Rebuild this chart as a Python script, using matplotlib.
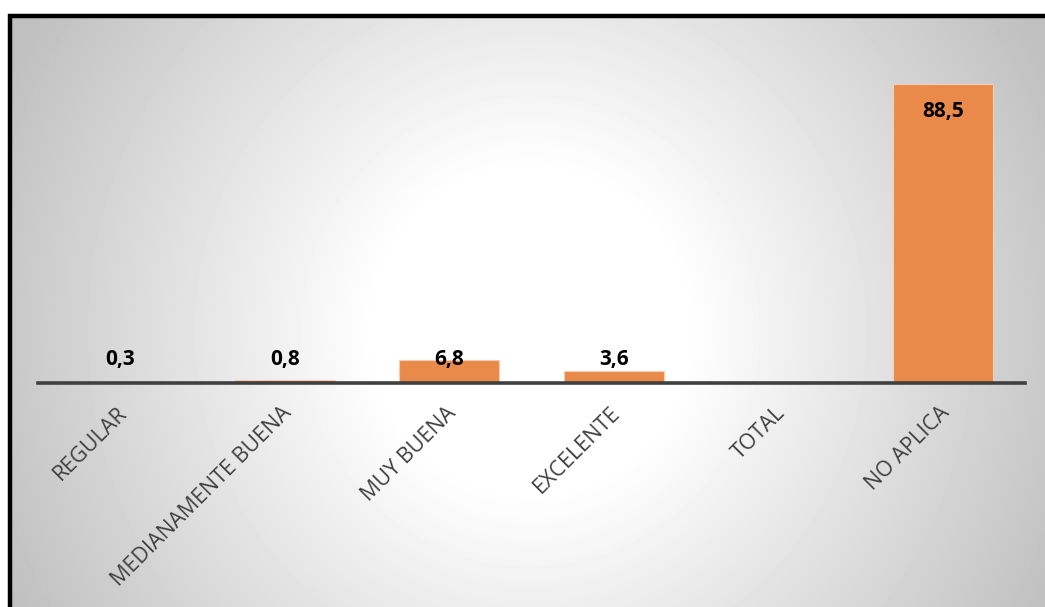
import numpy as np
import matplotlib
matplotlib.use("Agg")
import matplotlib.pyplot as plt
from matplotlib.patches import Rectangle
from matplotlib.transforms import ScaledTranslation

categories = ["REGULAR", "MEDIANAMENTE BUENA", "MUY BUENA", "EXCELENTE", "TOTAL", "NO APLICA"]
values = [0.3, 0.8, 6.8, 3.6, None, 88.5]
value_labels = ["0,3", "0,8", "6,8", "3,6", "", "88,5"]

BAR = "#E98A4B"
AXIS = "#404040"

W, H = 1045, 607
fig = plt.figure(figsize=(W / 100, H / 100), dpi=100, facecolor="white")

# framed area, white in the middle fading to grey towards the sides
frame_l, frame_t = 10, 16
bg = fig.add_axes([frame_l / W, 0, 1 - frame_l / W, 1 - frame_t / H], zorder=0)
yy, xx = np.mgrid[0:H - frame_t, 0:W - frame_l]
cx, cy = 520, 315
dx = (xx - cx) / 520.0
dy = (yy - cy) / 320.0
dist = np.sqrt(dx ** 2 + (0.6 * dy) ** 2)
shade = 1.0 - 0.25 * np.clip((dist - 0.3) / 0.82, 0, 1)
bg.imshow(shade, cmap="gray", vmin=0, vmax=1, aspect="auto",
          extent=[0, 1, 0, 1], origin="upper", interpolation="bilinear")
bg.set_axis_off()

fig.add_artist(Rectangle((frame_l / W, -0.05), 1.1, 1 - frame_t / H + 0.05,
                         transform=fig.transFigure, fill=False,
                         edgecolor="black", linewidth=3.2, zorder=5))

ax = fig.add_axes([38 / W, (H - 383) / H, (1025 - 38) / W, (383 - 62) / H], zorder=2)
ax.patch.set_alpha(0)

x = np.arange(len(categories))
heights = [v if v is not None else 0 for v in values]
ax.bar(x, heights, width=0.61, color=BAR, edgecolor="#F6CFB2", linewidth=0.8, zorder=2)

for i, (v, lab) in enumerate(zip(values, value_labels)):
    if not lab:
        continue
    if v > 50:
        ax.annotate(lab, (i, v), xytext=(0, -20), textcoords="offset points",
                    ha="center", va="center", fontsize=15, fontweight="bold",
                    family="Open Sans", color="black", zorder=4)
    else:
        ax.annotate(lab, (i, 0), xytext=(0, 17), textcoords="offset points",
                    ha="center", va="center", fontsize=15, fontweight="bold",
                    family="Open Sans", color="black", zorder=4)

ax.set_xlim(-0.5, 5.5)
ax.set_ylim(0, 95)
ax.axhline(0, color=AXIS, linewidth=2.6, zorder=3, clip_on=False)
for s in ax.spines.values():
    s.set_visible(False)
ax.set_yticks([])
ax.set_xticks(x)
ax.set_xticklabels(categories, rotation=45, ha="right", rotation_mode="anchor",
                   fontsize=15.5, family="Open Sans", color=AXIS)
ax.tick_params(axis="x", length=0, pad=14)
shift = ScaledTranslation(-4 / 100, 0, fig.dpi_scale_trans)
for t in ax.get_xticklabels():
    t.set_transform(t.get_transform() + shift)

fig.savefig("out.png", dpi=100, facecolor="white")
